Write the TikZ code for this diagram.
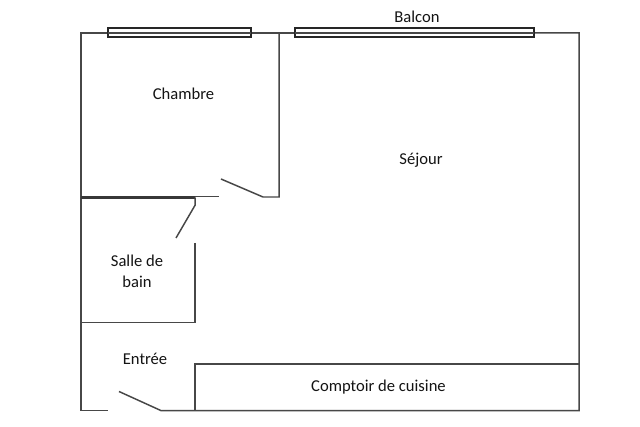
\documentclass[tikz,border=0pt]{standalone}
\usepackage{fontspec}
\setmainfont{Carlito}
\tikzset{
  wall/.style={draw=black!72,line width=1.1pt,line join=miter},
  winwall/.style={draw=black!85,line width=1.5pt,line join=miter},
  thickwall/.style={draw=black!78,line width=2.2pt},
  thinwall/.style={draw=black!72,line width=0.9pt},
  label/.style={font=\fontsize{12.45pt}{15.5pt}\selectfont,text=black!92,align=center,inner sep=0pt}
}
\begin{document}
\begin{tikzpicture}[x=0.75pt,y=-0.75pt]
\useasboundingbox (0,0) rectangle (640,427);
\fill[white] (0,0) rectangle (640,427);
% outer walls
\draw[wall] (108,32.9) -- (81.2,32.9) -- (81.2,410.6) -- (108,410.6);
\draw[wall] (250,32.9) -- (295,32.9);
\draw[wall] (533.5,32.9) -- (579.2,32.9) -- (579.2,410.6) -- (161,410.6) -- (119,391.5);
% bedroom
\draw[wall] (279.2,32.9) -- (279.2,197) -- (263,197) -- (221,179);
\draw[thickwall] (81,197.5) -- (195,197.5);
\draw[thinwall] (195,196.8) -- (219,196.8);
% bathroom
\draw[wall] (195.2,197.5) -- (195.2,205) -- (176,238);
\draw[wall] (195.2,243) -- (195.2,322.6) -- (81,322.6);
% counter
\draw[wall] (195.2,410.6) -- (195.2,364.2) -- (579,364.2);
% windows
\draw[winwall] (107.5,28.5) rectangle (250.5,37.5);
\draw[thinwall] (107.5,33) -- (250.5,33);
\draw[winwall] (295,28.5) rectangle (533.5,37.5);
\draw[thinwall] (295,33) -- (533.5,33);
% labels
\node[label] (balcon) at (417,16.5) {Balcon};
\node[label] (chambre) at (183.5,94) {Chambre};
\node[label] (sejour) at (421,160.5) {Séjour};
\node[label] (bain) at (137,271) {Salle de\\bain};
\node[label] (entree) at (145,358.5) {Entrée};
\node[label] (comptoir) at (378.5,387.5) {Comptoir de cuisine};
\end{tikzpicture}
\end{document}
